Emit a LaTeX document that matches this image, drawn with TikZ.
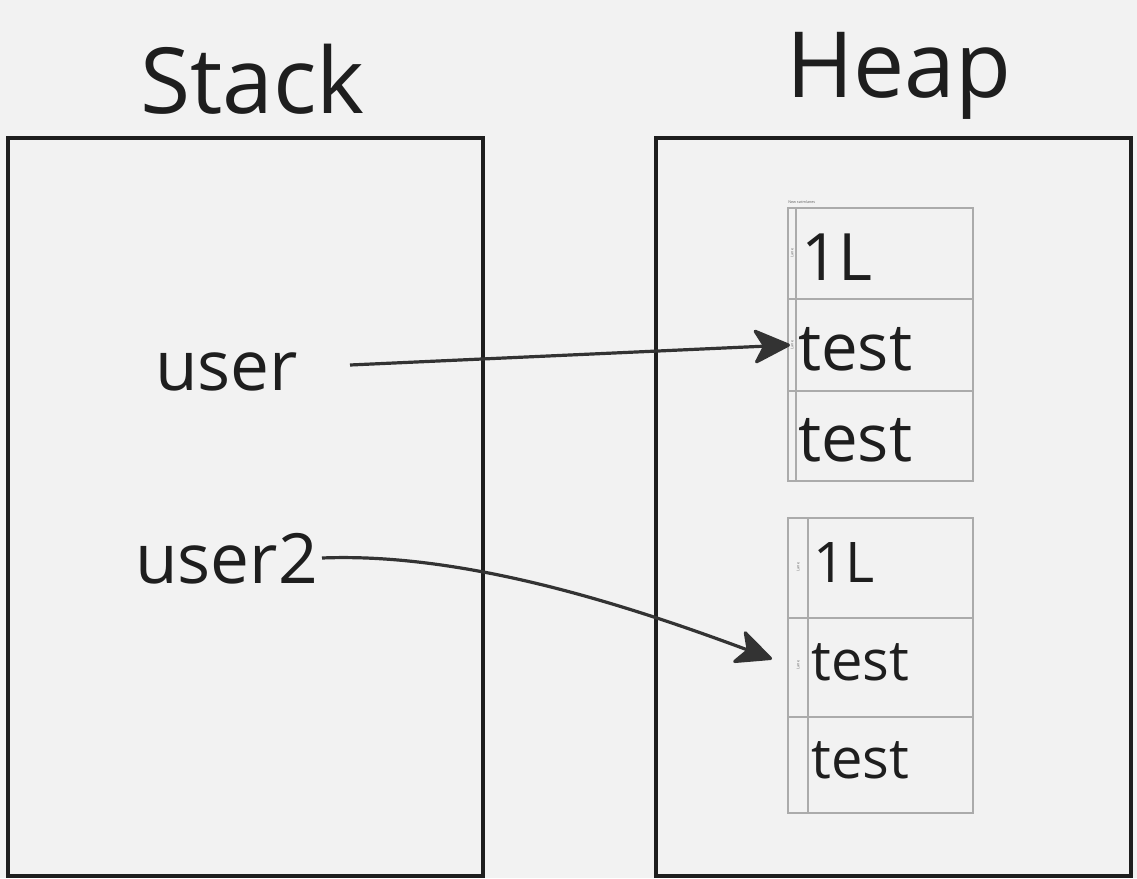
\documentclass[tikz,border=0pt]{standalone}
\usepackage{fontspec}
\setmainfont{Open Sans}
\usetikzlibrary{arrows.meta}
\definecolor{bg}{HTML}{F2F2F2}
\definecolor{ink}{HTML}{1E1E1E}
\definecolor{cellline}{HTML}{ABABAB}
\definecolor{arrowc}{HTML}{333333}
\begin{document}
\begin{tikzpicture}[x=0.75pt,y=-0.75pt,
  frame/.style={draw=ink,line width=2.4pt,fill=none},
  cell/.style={draw=cellline,line width=1.5pt},
  big/.style={font=\fontsize{68.5}{72}\selectfont,text=ink,inner sep=0pt,anchor=base west},
  mid/.style={font=\fontsize{52}{56}\selectfont,text=ink,inner sep=0pt,anchor=base west},
  celltext/.style={font=\fontsize{49}{52}\selectfont,text=ink,inner sep=0pt,anchor=base west},
  celltextb/.style={font=\fontsize{42}{46}\selectfont,text=ink,inner sep=0pt,anchor=base west},
  tiny/.style={font=\fontsize{2.8}{3}\selectfont,text=ink!70,inner sep=0pt},
  link/.style={draw=arrowc,line width=2.4pt,-{Stealth[length=30pt,width=28pt,inset=8pt,round]}}]
\fill[bg] (0,0) rectangle (1137,878);
\useasboundingbox (0,0) rectangle (1137,878);
% frames
\draw[frame] (8,138) rectangle (483,876);
\draw[frame] (656,138) rectangle (1131,876);
\node[big] (stack) at (140,113) {Stack};
\node[big] (heap) at (786,97) {Heap};
% labels
\node[mid] (user) at (155,390) {user};
\node[mid] (user2) at (135,583) {user2};
% upper table
\node[tiny,anchor=south west] (title) at (788,204) {New swimlanes};
\draw[cell] (788,208) rectangle (973,481);
\draw[cell] (796,208) -- (796,481);
\draw[cell] (788,299) -- (973,299);
\draw[cell] (788,391) -- (973,391);
\coordinate (r2) at (790,345);
\node[tiny,rotate=90] (l1) at (792,253) {Lane};
\node[tiny,rotate=90] (l2) at (792,345) {Lane};
\node[celltext] (a1) at (801,280) {1L};
\node[celltext] (a2) at (798,370) {test};
\node[celltext] (a3) at (798,461) {test};
% lower table
\draw[cell] (788,518) rectangle (973,813);
\draw[cell] (808,518) -- (808,813);
\draw[cell] (788,618) -- (973,618);
\draw[cell] (788,717) -- (973,717);
\node[tiny,rotate=90] (l3) at (798,567) {Lane};
\node[tiny,rotate=90] (l4) at (798,665) {Lane};
\node[celltextb] (b1) at (813,582) {1L};
\node[celltextb] (b2) at (811,680) {test};
\node[celltextb] (b3) at (811,778) {test};
% arrows
\coordinate (u1) at (350,365);
\coordinate (u2) at (322,558);
\coordinate (e2) at (772,659);
\draw[link] (u1) -- (r2);
\draw[link] (u2) .. controls (470,552) and (640,610) .. (e2);
\end{tikzpicture}
\end{document}
